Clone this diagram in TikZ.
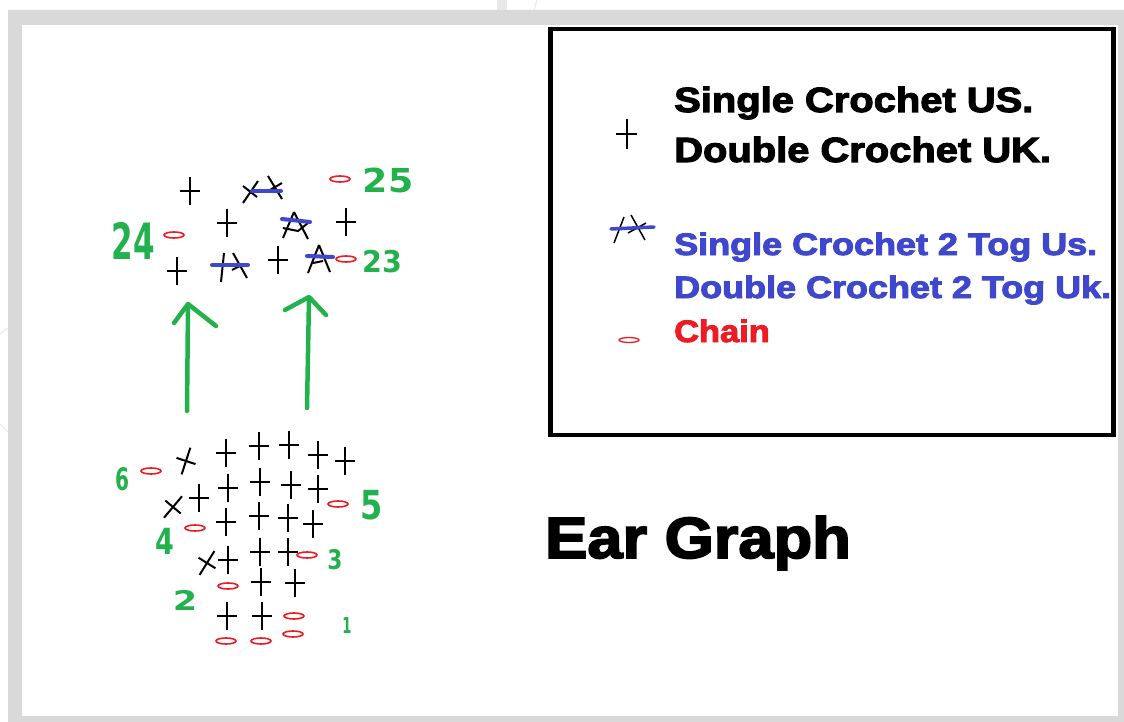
\documentclass[tikz,border=0pt]{standalone}
\usepackage{fontspec}
\newfontfamily\lgd[BoldFeatures={FakeBold=3}]{Liberation Sans}
\newfontfamily\hand{DejaVu Sans}
\definecolor{pgreen}{RGB}{34,177,76}
\definecolor{pblue}{RGB}{63,72,204}
\definecolor{pred}{RGB}{237,28,36}
\definecolor{frame}{RGB}{217,217,217}
\definecolor{faint}{RGB}{232,232,232}
\tikzset{
  x=1pt,y=-1pt,
  stitch/.style={draw=black,line width=2pt},
  chain/.style={draw=pred,line width=1.6pt,fill=white},
  strike/.style={draw=pblue,line width=4pt,line cap=round},
  arrowline/.style={draw=pgreen,line width=4.5pt,line cap=round,line join=round},
  num/.style={text=pgreen,inner sep=0pt,anchor=center},
  lgdtext/.style={anchor=base west,inner sep=0pt},
}
\newcommand{\plusst}[3][0]{\draw[stitch,rotate around={#1:(#2,#3)}] (#2-10,#3) -- (#2+10,#3) (#2,#3-14) -- (#2,#3+14);}
\newcommand{\chn}[2]{\draw[chain] (#1,#2) ellipse [x radius=10,y radius=3];}
\begin{document}
\begin{tikzpicture}
\useasboundingbox (0,0) rectangle (1124,722);
\fill[white] (0,0) rectangle (1124,722);
% faint background
\draw[faint,line width=1pt] (452,12) arc [start angle=180,end angle=20,radius=10];
\fill[faint] (497,0) rectangle (507,10);
\draw[faint,line width=1pt] (537,0) -- (534,10);
\draw[faint,line width=1pt] (0,334) -- (8,328) (0,424) -- (8,432);
% frame
\fill[frame,even odd rule] (8,10) rectangle (1124,722) (22,25) rectangle (1118,716);
% legend box
\node[draw=black,line width=4.5pt,minimum width=563,minimum height=406,inner sep=0pt] (legend) at (832,232) {};
\node[lgdtext,font=\lgd\bfseries\fontsize{35}{35}\selectfont,xscale=1.14] (t1) at (674,112) {Single Crochet US.};
\node[lgdtext,font=\lgd\bfseries\fontsize{35}{35}\selectfont,xscale=1.14] (t2) at (674,162) {Double Crochet UK.};
\node[lgdtext,text=pblue,font=\lgd\bfseries\fontsize{31}{31}\selectfont,xscale=1.16] (t3) at (674,255) {Single Crochet 2 Tog Us.};
\node[lgdtext,text=pblue,font=\lgd\bfseries\fontsize{31}{31}\selectfont,xscale=1.16] (t4) at (674,298) {Double Crochet 2 Tog Uk.};
\node[lgdtext,text=pred,font=\lgd\bfseries\fontsize{31}{31}\selectfont,xscale=1.11] (t5) at (674,342) {Chain};
\node[lgdtext,font=\lgd\bfseries\fontsize{58}{58}\selectfont,xscale=1.09] (title) at (545,558) {Ear Graph};
% legend symbols
\draw[stitch,line width=1.3pt] (616,134) -- (637,134) (627,119) -- (627,149);
\draw[stitch,line width=1.5pt] (624,217) -- (614,243) (631,215) -- (645,240) (628,233) -- (646,223);
\draw[strike,line width=3.5pt] (611,229) -- (654,227);
\draw[chain,line width=1.3pt] (629,340) ellipse [x radius=10,y radius=2.5];
% upper stitches
\plusst{190}{191}\plusst{227}{223}\plusst{346}{222}\plusst{177}{271}\plusst{278}{260}
\draw[stitch] (243,203) -- (258,181) (243,186) -- (257,197) (268,176) -- (282,199) (270,190) -- (282,183);
\draw[strike] (252,191) -- (281,191);
\draw[stitch] (294,212) -- (308,239) (294,212) -- (283,238) (283,228) -- (298,231) -- (308,223);
\draw[strike] (282,219) -- (310,222);
\draw[stitch] (224,253) -- (221,282) (233,253) -- (247,278) (232,270) -- (242,265);
\draw[strike] (212,265) -- (248,265);
\draw[stitch] (319,245) -- (308,273) (319,245) -- (330,272) (313,263) -- (323,261);
\draw[strike] (307,256) -- (333,257);
\chn{340}{179}\chn{174}{235}\chn{346}{259}
% upper numbers
\node[num,font=\hand\bfseries\fontsize{33}{33}\selectfont,xscale=1.1] (n25) at (388,180) {25};
\node[num,font=\hand\bfseries\fontsize{50}{50}\selectfont,xscale=0.62] (n24) at (133,241) {24};
\node[num,font=\hand\bfseries\fontsize{30}{30}\selectfont,xscale=0.95] (n23) at (382,262) {23};
% arrows
\draw[arrowline] (187,411) -- (188,305);
\draw[arrowline] (174,323) -- (188,304) -- (216,326);
\draw[arrowline] (307,408) -- (309,298);
\draw[arrowline] (285,310) -- (309,297) -- (326,315);
% lower stitches
\foreach \p/\q in {226/453,259/446,289/445,318/455,345/461,228/488,260/482,291/485,318/489,199/498,226/522,259/516,288/518,313/524,228/560,260/552,288/552,261/582,295/583,227/616,262/616}{\plusst{\p}{\q}}
\plusst[-18]{186}{461}
\plusst[-40]{173}{507}
\plusst[-32]{207}{563}
\foreach \p/\q in {151/471,195/528,338/504,307/555,228/586,294/616,293/634,226/641,261/641}{\chn{\p}{\q}}
% lower numbers
\node[num,font=\hand\bfseries\fontsize{31}{31}\selectfont,xscale=0.65] (n6) at (123,479) {6};
\node[num,font=\hand\bfseries\fontsize{40}{40}\selectfont,xscale=0.8] (n5) at (372,505) {5};
\node[num,font=\hand\bfseries\fontsize{36}{36}\selectfont,xscale=0.75] (n4) at (165,541) {4};
\node[num,font=\hand\bfseries\fontsize{27}{27}\selectfont,xscale=0.8] (n3) at (335,560) {3};
\node[num,font=\hand\bfseries\fontsize{27}{27}\selectfont,xscale=1.3] (n2) at (185,600) {2};
\node[num,font=\hand\bfseries\fontsize{22}{22}\selectfont,xscale=0.6] (n1) at (347,625) {1};
\end{tikzpicture}
\end{document}
